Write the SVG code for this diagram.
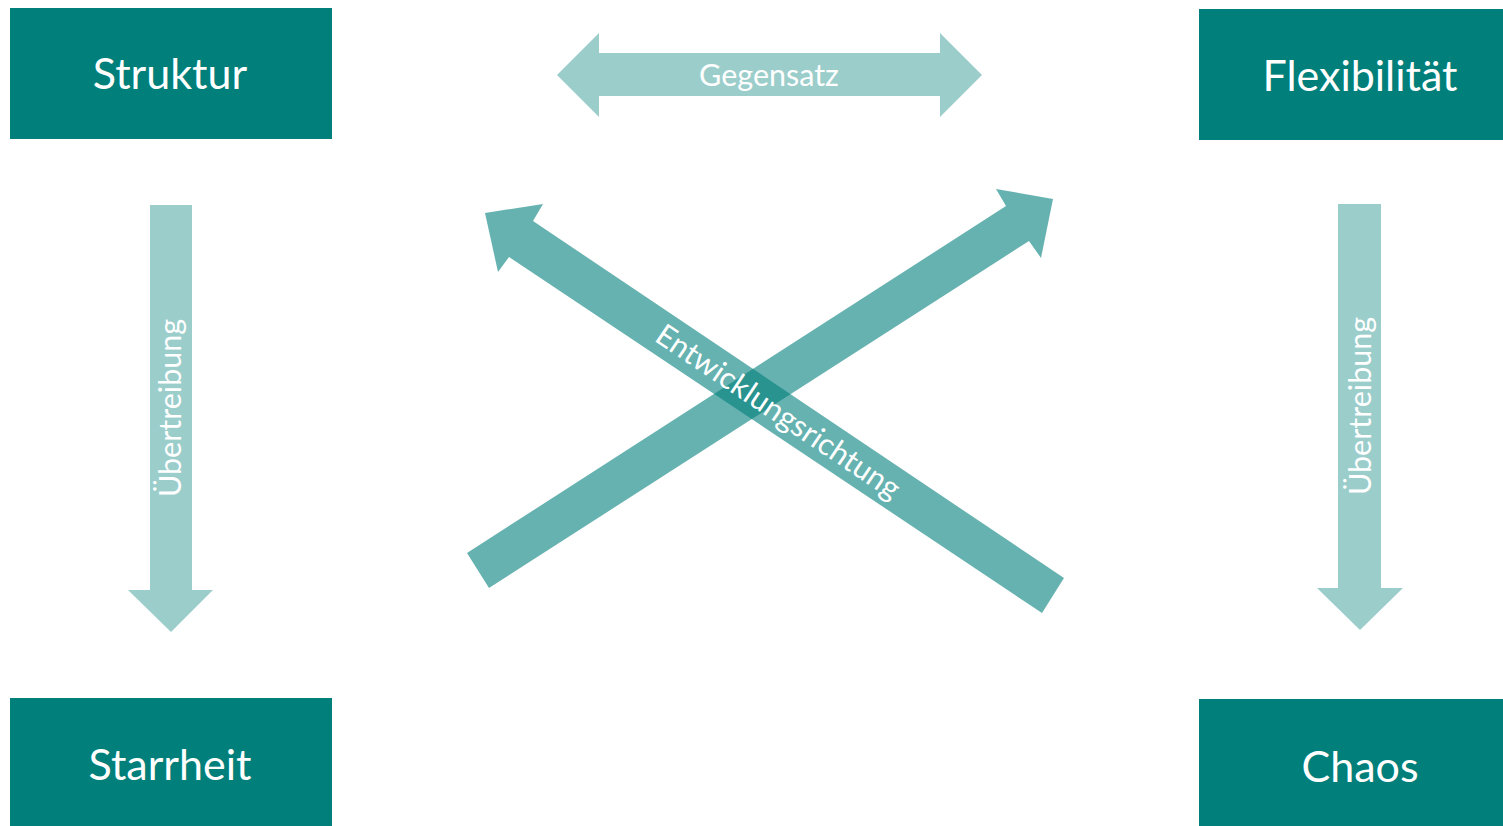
<svg xmlns="http://www.w3.org/2000/svg" width="1503" height="826" viewBox="0 0 1503 826">
<style>
.box{fill:#007F7B}
.lbl{font-family:Lato,"Open Sans","Liberation Sans",sans-serif;fill:#ffffff;text-anchor:middle}
.big{font-size:43px}
.small{font-size:30.5px}
.light{fill:#9BCDCB}
.cross{fill:#007F7B;fill-opacity:0.6}
</style>
<rect width="1503" height="826" fill="#ffffff"/>
<g id="connectors">
  <g id="gegensatz">
    <polygon class="light" points="557,75 599,33 599,53 940,53 940,33 982,75 940,117 940,96 599,96 599,117"/>
    <text class="lbl small" x="769" y="86">Gegensatz</text>
  </g>
  <g id="uebertreibung-left">
    <polygon class="light" points="150,205 192,205 192,590 213,590 171,632 128,590 150,590"/>
    <text class="lbl small" transform="translate(181,408) rotate(-90)">Übertreibung</text>
  </g>
  <g id="uebertreibung-right">
    <polygon class="light" points="1338,204 1381,204 1381,588 1403,588 1360,630 1317,588 1338,588"/>
    <text class="lbl small" transform="translate(1371,406) rotate(-90)">Übertreibung</text>
  </g>
  <g id="entwicklung">
    <polygon class="cross" points="467,553 1006,206 996,189 1053,199 1041,258 1029,241 489,588"/>
    <polygon class="cross" points="1064,578 533,221 543,204 485,213 498,272 509,257 1042,613"/>
    <text class="lbl small" transform="translate(778,412) rotate(33.9)" y="10">Entwicklungsrichtung</text>
  </g>
</g>
<g id="struktur">
  <rect class="box" x="10" y="8" width="322" height="131"/>
  <text class="lbl big" x="170" y="89">Struktur</text>
</g>
<g id="flexibilitaet">
  <rect class="box" x="1199" y="9" width="322" height="131"/>
  <text class="lbl big" x="1360" y="91">Flexibilität</text>
</g>
<g id="starrheit">
  <rect class="box" x="10" y="698" width="322" height="131"/>
  <text class="lbl big" x="170" y="780">Starrheit</text>
</g>
<g id="chaos">
  <rect class="box" x="1199" y="699" width="322" height="131"/>
  <text class="lbl big" x="1360" y="782">Chaos</text>
</g>
</svg>
